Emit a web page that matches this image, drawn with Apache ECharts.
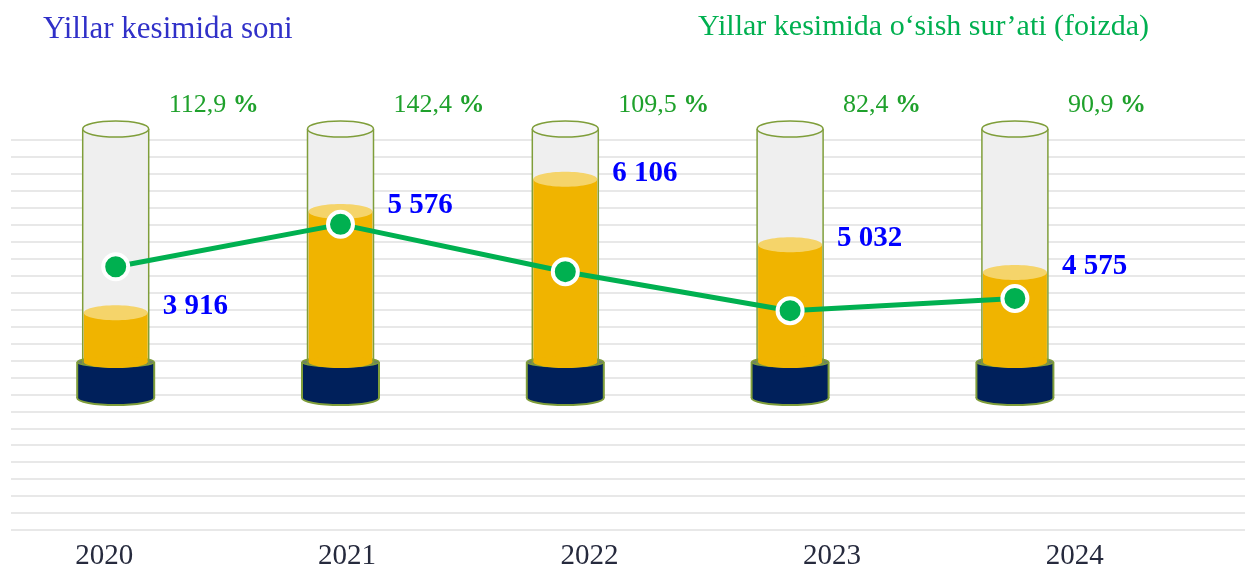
<!DOCTYPE html>
<html>
<head>
<meta charset="utf-8">
<script src="https://cdn.jsdelivr.net/npm/echarts@6/dist/echarts.min.js"></script>
<style>
  html, body { margin: 0; padding: 0; background: #fff; }
  #chart { width: 1245px; height: 571px; }
</style>
</head>
<body>
<div id="chart"></div>
<script>
var years = ['2020', '2021', '2022', '2023', '2024'];
var counts = [3916, 5576, 6106, 5032, 4575];
var growth = [112.9, 142.4, 109.5, 82.4, 90.9];

var SERIF = '"Liberation Serif", "Times New Roman", serif';

function fmtCount(v) {
    return String(v).replace(/\B(?=(\d{3})+(?!\d))/g, ' ');
}
function fmtGrowth(v) {
    return v.toFixed(1).replace('.', ',');
}

var chart = echarts.init(document.getElementById('chart'));

function renderTube(params, api) {
    var i = api.value(0);
    var level = api.coord([i, api.value(1)]);
    var cx = level[0], ly = level[1];
    var cs = params.coordSys;
    var tubeTop = cs.y - 11;
    var baseTop = cs.y + cs.height - 168;
    var baseBot = baseTop + 36;
    var rw = 33, bw = 38.5;
    var olive = '#7f9e3a';

    return {
        type: 'group',
        children: [
            // glass
            { type: 'rect', shape: { x: cx - rw, y: tubeTop, width: rw * 2, height: baseTop - tubeTop },
              style: { fill: '#efefef' } },
            // base
            { type: 'ellipse', shape: { cx: cx, cy: baseBot, rx: bw, ry: 7 },
              style: { fill: '#00205b', stroke: olive, lineWidth: 2 } },
            { type: 'rect', shape: { x: cx - bw, y: baseTop, width: bw * 2, height: baseBot - baseTop },
              style: { fill: '#00205b' } },
            { type: 'line', shape: { x1: cx - bw, y1: baseTop, x2: cx - bw, y2: baseBot },
              style: { stroke: olive, lineWidth: 2 } },
            { type: 'line', shape: { x1: cx + bw, y1: baseTop, x2: cx + bw, y2: baseBot },
              style: { stroke: olive, lineWidth: 2 } },
            { type: 'ellipse', shape: { cx: cx, cy: baseTop, rx: bw, ry: 5 },
              style: { fill: '#6f8262', stroke: olive, lineWidth: 1.5 } },
            // gold fill
            { type: 'rect', shape: { x: cx - rw + 1, y: ly, width: rw * 2 - 2, height: baseTop - ly },
              style: { fill: '#f0b400' } },
            { type: 'ellipse', shape: { cx: cx, cy: baseTop, rx: rw - 1, ry: 6 },
              style: { fill: '#f0b400' } },
            { type: 'ellipse', shape: { cx: cx, cy: ly, rx: rw - 1, ry: 7.5 },
              style: { fill: '#f5d46a' } },
            // tube outline
            { type: 'line', shape: { x1: cx - rw, y1: tubeTop, x2: cx - rw, y2: baseTop + 3 },
              style: { stroke: olive, lineWidth: 1.5 } },
            { type: 'line', shape: { x1: cx + rw, y1: tubeTop, x2: cx + rw, y2: baseTop + 3 },
              style: { stroke: olive, lineWidth: 1.5 } },
            { type: 'ellipse', shape: { cx: cx, cy: tubeTop, rx: rw, ry: 8 },
              style: { fill: '#f5f5f5', stroke: olive, lineWidth: 1.5 } },
            // labels
            { type: 'text', z2: 20,
              style: { text: fmtCount(api.value(1)), x: cx + 47, y: ly - 6,
                       fill: '#0000ff', font: 'bold 29px ' + SERIF,
                       align: 'left', verticalAlign: 'middle' } },
            { type: 'text', z2: 20,
              style: { text: '{a|' + fmtGrowth(growth[i]) + ' }{b|%}', x: cx + 53, y: cs.y - 35,
                       align: 'left', verticalAlign: 'middle',
                       rich: {
                           a: { fill: '#1fa12c', fontSize: 26, fontFamily: SERIF },
                           b: { fill: '#1fa12c', fontSize: 26, fontFamily: SERIF, fontWeight: 'bold' }
                       } } }
        ]
    };
}

var option = {
    animation: false,
    backgroundColor: '#ffffff',
    title: [
        { text: 'Yillar kesimida soni', left: 43, top: 14, padding: 0,
          textStyle: { fontFamily: SERIF, fontSize: 31, fontWeight: 'normal', color: '#3030c8' } },
        { text: 'Yillar kesimida o\u2018sish sur\u2019ati (foizda)', left: 698, top: 12, padding: 0,
          textStyle: { fontFamily: SERIF, fontSize: 30, fontWeight: 'normal', color: '#00b050' } }
    ],
    grid: [
        { left: 11, right: 0, top: 140, bottom: 41 },
        { left: 3.3, width: 1124, top: 140, bottom: 41 },
        { left: 0, width: 1213, top: 140, bottom: 41 }
    ],
    xAxis: [
        { gridIndex: 0, type: 'value', min: 0, max: 1, show: false },
        { gridIndex: 1, type: 'category', data: years, show: false },
        { gridIndex: 2, type: 'category', data: years,
          axisLine: { show: false }, axisTick: { show: false },
          axisLabel: { margin: 15, color: '#262a3d', fontSize: 29, fontFamily: SERIF,
                       padding: [0, 34, 0, 0] } }
    ],
    yAxis: [
        { gridIndex: 0, type: 'value', min: 0, max: 23, interval: 1,
          axisLabel: { show: false }, axisLine: { show: false }, axisTick: { show: false },
          splitLine: { show: true, lineStyle: { color: '#e0e0e0', width: 1.5 } } },
        { gridIndex: 1, type: 'value', min: 350, max: 6750, show: false, splitLine: { show: false } },
        { gridIndex: 1, type: 'value', min: -70, max: 201, show: false, splitLine: { show: false } },
        { gridIndex: 2, type: 'value', show: false, splitLine: { show: false } }
    ],
    series: [
        {
            type: 'custom',
            xAxisIndex: 1,
            yAxisIndex: 1,
            renderItem: renderTube,
            encode: { x: 0, y: 1 },
            data: counts.map(function (v, i) { return [i, v]; }),
            z: 2
        },
        {
            type: 'line',
            xAxisIndex: 1,
            yAxisIndex: 2,
            data: growth,
            symbol: 'circle',
            symbolSize: 25,
            lineStyle: { color: '#00b050', width: 5 },
            itemStyle: { color: '#00b050', borderColor: '#ffffff', borderWidth: 4 },
            z: 5
        }
    ]
};

chart.setOption(option);
</script>
</body>
</html>
